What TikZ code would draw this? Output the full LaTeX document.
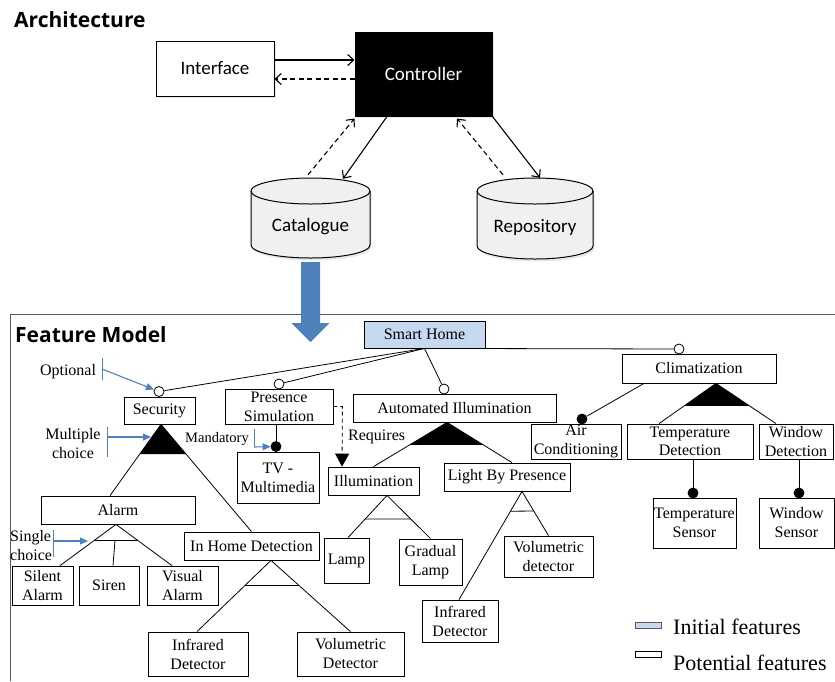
\documentclass[tikz,border=0pt]{standalone}
\usepackage{fontspec}
\setmainfont{Liberation Serif}
\newfontfamily\archfont{Carlito}
\newfontfamily\headfont{Open Sans}
\usetikzlibrary{arrows.meta,calc,shadows}
\definecolor{accent}{HTML}{4F81BD}
\definecolor{rootfill}{HTML}{C6D9F1}
\definecolor{dbfill}{HTML}{F0F0F0}
\definecolor{framegray}{HTML}{5A5A5A}
\begin{document}
\begin{tikzpicture}[x=1pt,y=-1pt,
  title/.style={anchor=base west, inner sep=0pt, font=\headfont\bfseries\fontsize{21}{25}\selectfont},
  comp/.style={draw, line width=1pt, inner sep=0pt, font=\archfont\fontsize{19}{22}\selectfont,
    drop shadow={opacity=.18, shadow xshift=1.5pt, shadow yshift=-2pt}},
  compText/.style={inner sep=0pt, font=\archfont\fontsize{19}{22}\selectfont},
  db/.style={fill=dbfill, draw, line width=1pt,
    drop shadow={opacity=.18, shadow xshift=1.5pt, shadow yshift=-2.5pt}},
  feat/.style={draw, line width=.8pt, fill=white, inner sep=0pt, align=center,
    font=\fontsize{16}{19}\selectfont},
  note/.style={inner sep=0pt, align=center, font=\fontsize{16}{19}\selectfont},
  opt/.style={circle, draw, fill=white, line width=.8pt, minimum size=10pt, inner sep=0pt},
  mand/.style={circle, draw, fill=black, line width=.8pt, minimum size=10pt, inner sep=0pt},
  link/.style={line width=.8pt},
  flow/.style={line width=1.1pt, -{Straight Barb[length=6pt,width=11pt]}},
  back/.style={flow, dash pattern=on 5pt off 3.5pt},
  hint/.style={accent, line width=1.1pt, -{Triangle[length=8pt,width=7pt]}},
  hintbar/.style={accent, line width=1pt},
]
\useasboundingbox (0,0) rectangle (835,681);

% ---------------- Architecture ----------------
\node[title] (archTitle) at (14,27) {Architecture};

\node[comp, fill=white, minimum width=118pt, minimum height=55pt] (iface) at (215,68.5) {Interface};
\node[comp, fill=black, text=white, minimum width=137pt, minimum height=84pt] (ctrl) at (423.5,74) {Controller};

% Catalogue store
\path[db] (251,191) -- (251,245) .. controls (251,252.2) and (277.6,258) .. (310.5,258)
  .. controls (343.4,258) and (370,252.2) .. (370,245) -- (370,191)
  .. controls (370,183.8) and (343.4,178) .. (310.5,178)
  .. controls (277.6,178) and (251,183.8) .. (251,191) -- cycle;
\draw[line width=1pt] (251,191) .. controls (251,198.2) and (277.6,204) .. (310.5,204)
  .. controls (343.4,204) and (370,198.2) .. (370,191);
\node[minimum width=119pt, minimum height=80pt, inner sep=0pt] (cat) at (310.5,218) {};
\node[compText] (catText) at (310.5,227) {Catalogue};

% Repository store
\path[db] (477,191) -- (477,246) .. controls (477,253.2) and (503,259) .. (535,259)
  .. controls (567,259) and (593,253.2) .. (593,246) -- (593,191)
  .. controls (593,183.8) and (567,178) .. (535,178)
  .. controls (503,178) and (477,183.8) .. (477,191) -- cycle;
\draw[line width=1pt] (477,191) .. controls (477,198.2) and (503,204) .. (535,204)
  .. controls (567,204) and (593,198.2) .. (593,191);
\node[minimum width=116pt, minimum height=81pt, inner sep=0pt] (repo) at (535,218.5) {};
\node[compText] (repoText) at (535,227) {Repository};

% component links
\draw[flow] ([yshift=8.5pt]iface.east) -- ([yshift=14pt]ctrl.west);
\draw[back] ([yshift=-5pt]ctrl.west) -- ([yshift=-10.5pt]iface.east);
\draw[flow] ([xshift=-36.5pt]ctrl.south) -- ([xshift=32.5pt,yshift=-1pt]cat.north);
\draw[back] ([xshift=-2.5pt,yshift=3pt]cat.north) -- ([xshift=-69pt,yshift=-2pt]ctrl.south);
\draw[flow] (ctrl.south east) -- ([xshift=5pt]repo.north);
\draw[back] ([xshift=-32pt,yshift=3pt]repo.north) -- ([xshift=33.5pt,yshift=-2pt]ctrl.south);

% ---------------- Feature model ----------------
\draw[framegray, line width=1pt] (10,681) -- (10,314) -- (835,314);
\node[title] (fmTitle) at (15,342) {Feature Model};

% catalogue feeds the feature model
\coordinate (fmTip) at (310.5,342);
\fill[accent] ($(cat.south)+(-9.5,4)$) -- ($(cat.south)+(9.5,4)$) -- ($(fmTip)+(9.5,-19)$)
  -- ($(fmTip)+(19,-19)$) -- (fmTip) -- ($(fmTip)+(-19,-19)$) -- ($(fmTip)+(-9.5,-19)$) -- cycle;

% features
\node[feat, fill=rootfill, minimum width=121pt, minimum height=27pt] (sh) at (424.5,334.5) {Smart Home};
\node[feat, minimum width=71pt, minimum height=27pt] (sec) at (159.5,410.5) {Security};
\node[feat, minimum width=108pt, minimum height=35pt] (ps) at (279,406.5) {Presence\\Simulation};
\node[feat, minimum width=203pt, minimum height=28pt] (ai) at (454.5,408) {Automated Illumination};
\node[feat, minimum width=154pt, minimum height=29pt] (clim) at (699,368.5) {Climatization};
\node[feat, minimum width=82pt, minimum height=51pt] (tv) at (278,477.5) {TV -\\Multimedia};
\node[feat, minimum width=91pt, minimum height=28pt] (ill) at (373.5,481) {Illumination};
\node[feat, minimum width=126pt, minimum height=28pt] (lbp) at (507,477) {Light By Presence};
\node[feat, minimum width=90pt, minimum height=35pt, font=\fontsize{16}{18.5}\selectfont] (ac) at (576,441.5) {Air\\Conditioning};
\node[feat, minimum width=126pt, minimum height=35pt, font=\fontsize{16}{18.5}\selectfont] (td) at (690,441.5) {Temperature\\Detection};
\node[feat, minimum width=74pt, minimum height=35pt, font=\fontsize{16}{18.5}\selectfont] (wd) at (796,441.5) {Window\\Detection};
\node[feat, minimum width=83pt, minimum height=50pt] (ts) at (694.5,523) {Temperature\\Sensor};
\node[feat, minimum width=75pt, minimum height=50pt] (ws) at (796.5,523) {Window\\Sensor};
\node[feat, minimum width=154pt, minimum height=28pt] (alarm) at (118,510) {Alarm};
\node[feat, minimum width=61pt, minimum height=39pt] (sa) at (42.5,585.5) {Silent\\Alarm};
\node[feat, minimum width=60pt, minimum height=39pt] (siren) at (109,585.5) {Siren};
\node[feat, minimum width=71pt, minimum height=39pt] (va) at (182.5,585.5) {Visual\\Alarm};
\node[feat, minimum width=135pt, minimum height=28pt] (ihd) at (251.5,546) {In Home Detection};
\node[feat, minimum width=100pt, minimum height=44pt] (ird1) at (198,654) {Infrared\\Detector};
\node[feat, minimum width=107pt, minimum height=44pt] (vd1) at (350.5,654) {Volumetric\\Detector};
\node[feat, minimum width=45pt, minimum height=45pt] (lamp) at (346.5,560.5) {Lamp};
\node[feat, minimum width=63pt, minimum height=46pt] (gl) at (430.5,562) {Gradual\\Lamp};
\node[feat, minimum width=89pt, minimum height=41pt] (vd2) at (548.5,556.5) {Volumetric\\detector};
\node[feat, minimum width=76pt, minimum height=42pt] (ird2) at (460,621) {Infrared\\Detector};

% optional and mandatory markers
\node[opt] (secO) at (159,391.5) {};
\node[opt] (psO) at (279,384) {};
\node[opt] (aiO) at (444,389) {};
\node[opt] (climO) at (679,349) {};
\node[mand] (tvM) at (276,446.5) {};
\node[mand] (acM) at (582,419) {};
\node[mand] (tsM) at (693,493) {};
\node[mand] (wsM) at (799,493) {};

\draw[link] (sh.south) -- (secO);
\draw[link] (sh.south) -- (psO);
\draw[link] (sh.south) -- (aiO);
\draw[link] (sh.south) -- (climO);
\draw[link] ([xshift=-3pt]ps.south) -- (tvM);
\draw[link] ([xshift=-55pt]clim.south) -- (acM);
\draw[link] ([xshift=3pt]td.south) -- (tsM);
\draw[link] ([xshift=3pt]wd.south) -- (wsM);

% Security: or-group
\coordinate (secA) at ([xshift=1.5pt]sec.south);
\coordinate (alarmT) at ([xshift=-8pt]alarm.north);
\coordinate (ihdT) at (ihd.north);
\fill ($(secA)!.417!(alarmT)$) -- (secA) -- ($(secA)!.278!(ihdT)$) -- cycle;
\draw[link] (alarmT) -- (secA) -- (ihdT);

% Alarm: alternative group
\coordinate (alarmA) at ([xshift=-2pt]alarm.south);
\coordinate (saT) at ([xshift=17.5pt]sa.north);
\coordinate (vaT) at ([xshift=-10.5pt]va.north);
\coordinate (sirenT) at ([xshift=4pt]siren.north);
\draw[link] (saT) -- (alarmA) -- (vaT);
\draw[link] ($(alarmA)!.381!(saT)$) -- ($(alarmA)!.381!(vaT)$);
\draw[link] ($(alarmA)+(-1,16)$) -- (sirenT);

% In Home Detection: alternative group
\coordinate (ihdA) at ([xshift=19.5pt]ihd.south);
\coordinate (ird1T) at ([xshift=-1pt]ird1.north);
\coordinate (vd1T) at (vd1.north);
\draw[link] (ird1T) -- (ihdA) -- (vd1T);
\draw[link] ($(ihdA)!.347!(ird1T)$) -- ($(ihdA)!.347!(vd1T)$);

% Automated Illumination: or-group
\coordinate (aiA) at ([xshift=-7.5pt]ai.south);
\coordinate (illT) at (ill.north);
\coordinate (lbpT) at ([xshift=5pt]lbp.north);
\fill ($(aiA)!.511!(illT)$) -- (aiA) -- ($(aiA)!.561!(lbpT)$) -- cycle;
\draw[link] (illT) -- (aiA) -- (lbpT);

% Illumination: alternative group
\coordinate (illA) at ([xshift=13.5pt]ill.south);
\coordinate (lampT) at ([xshift=1.5pt]lamp.north);
\coordinate (glT) at (gl.north);
\draw[link] (lampT) -- (illA) -- (glT);
\draw[link] ($(illA)!.558!(lampT)$) -- ($(illA)!.545!(glT)$);

% Light By Presence: alternative group
\coordinate (lbpA) at ([xshift=15pt]lbp.south);
\coordinate (vd2T) at (vd2.north);
\coordinate (ird2T) at ([xshift=-1pt]ird2.north);
\draw[link] (ird2T) -- (lbpA) -- (vd2T);
\draw[link] ($(lbpA)!.183!(ird2T)$) -- ($(lbpA)!.444!(vd2T)$);

% Climatization: or-group
\coordinate (climA) at ([xshift=17pt]clim.south);
\coordinate (tdT) at ([xshift=-31pt]td.north);
\coordinate (wdT) at ([xshift=-20pt]wd.north);
\fill ($(climA)!.561!(tdT)$) -- (climA) -- ($(climA)!.561!(wdT)$) -- cycle;
\draw[link] (tdT) -- (climA) -- (wdT);

% requires constraint
\draw[link, dash pattern=on 4pt off 3pt, -{Triangle[length=13pt,width=14pt]}]
  (ps.east) -- ++(9,0) -- ([xshift=-31.5pt]ill.north);
\node[note, anchor=west] (reqLbl) at (348,437) {Requires};

% notation hints
\node[note] (optLbl) at (68,372) {Optional};
\coordinate (optFrom) at (102,369);
\draw[hintbar] ([yshift=11pt]optFrom) -- ([yshift=-11pt]optFrom);
\draw[hint] (optFrom) -- (secO);

\node[note] (mulLbl) at (73,444) {Multiple\\choice};
\coordinate (mulFrom) at (107,437);
\coordinate (mulTo) at (151,437);
\draw[hintbar] ([yshift=10pt]mulFrom) -- ([yshift=-20pt]mulFrom);
\draw[hint] (mulFrom) -- (mulTo);

\node[note, font=\fontsize{14.5}{17}\selectfont] (manLbl) at (217,439) {Mandatory};
\coordinate (manFrom) at (254,447);
\draw[hintbar] ([yshift=18pt]manFrom) -- (manFrom);
\draw[hint] (manFrom) -- (tvM);

\node[note, align=left, anchor=west] (sinLbl) at (10,546) {Single\\choice};
\coordinate (sinFrom) at (53,541);
\coordinate (sinTo) at (88,541);
\draw[hintbar] ([yshift=11pt]sinFrom) -- ([yshift=-16pt]sinFrom);
\draw[hint] (sinFrom) -- (sinTo);

% legend
\node[draw=framegray, fill=rootfill, line width=.8pt, minimum width=26pt, minimum height=6pt, inner sep=0pt] (legInit) at (648,625) {};
\node[inner sep=0pt, anchor=west, font=\fontsize{22}{26}\selectfont] (legInitText) at (673,627) {Initial features};
\node[draw, fill=white, line width=.8pt, minimum width=26pt, minimum height=6pt, inner sep=0pt] (legPot) at (648,654) {};
\node[inner sep=0pt, anchor=west, font=\fontsize{22}{26}\selectfont] (legPotText) at (673,663) {Potential features};
\end{tikzpicture}
\end{document}
